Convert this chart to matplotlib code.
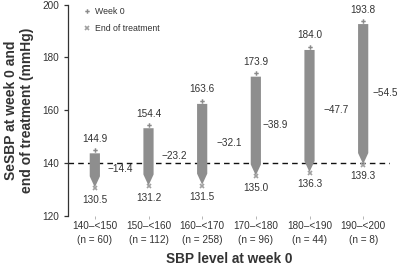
import matplotlib
matplotlib.use("Agg")
import matplotlib.pyplot as plt
import numpy as np

plt.rcParams['font.family'] = ['Liberation Sans', 'DejaVu Sans']

categories = ["140\u2013<150", "150\u2013<160", "160\u2013<170", "170\u2013<180", "180\u2013<190", "190\u2013<200"]
n_values = [60, 112, 258, 96, 44, 8]
week0 = [144.9, 154.4, 163.6, 173.9, 184.0, 193.8]
end_tx = [130.5, 131.2, 131.5, 135.0, 136.3, 139.3]
changes = [-14.4, -23.2, -32.1, -38.9, -47.7, -54.5]
yticks = [120, 140, 160, 180, 200]

bar_color = "#8e8e8e"
txt = "#333333"

fig = plt.figure(figsize=(4.0, 2.65), dpi=100)
ax = fig.add_axes([0.17, 0.185, 0.805, 0.798])

x = np.arange(1, len(categories) + 1)
hw = 0.095       # half width in data units
gap_top = 1.2    # gap between marker and bar top
head = 4.2       # arrow head length

for xi, w0, e in zip(x, week0, end_tx):
    top = w0 - gap_top
    tip = e + 0.3
    neck = tip + head
    xs = [xi - hw, xi + hw, xi + hw, xi, xi - hw]
    ys = [top, top, neck, tip, neck]
    ax.fill(xs, ys, color=bar_color, lw=0, zorder=2)

ax.axhline(140, color="#111111", lw=1.0, ls=(0, (4, 3)), zorder=1)

ax.plot(x, week0, ls="none", marker="P", ms=3.2, color="#8a8a8a", mew=0, zorder=3, label="Week 0")
ax.plot(x, end_tx, ls="none", marker="x", ms=3.2, color="#a0a0a0", mew=1.2, zorder=3, label="End of treatment")

fs = 7.2
for xi, w0, e in zip(x, week0, end_tx):
    ax.text(xi, w0 + 2.4, f"{w0:.1f}", ha="center", va="bottom", fontsize=fs, color=txt)
    ax.text(xi, e - 2.4, f"{e:.1f}", ha="center", va="top", fontsize=fs, color=txt)

label_dx = [0.48, 0.48, 0.5, 0.36, 0.5, 0.42]
for xi, w0, e, c, dx in zip(x, week0, end_tx, changes, label_dx):
    ax.text(xi + dx, (w0 + e) / 2, f"\u2212{abs(c):.1f}", ha="center", va="center", fontsize=fs, color=txt)

ax.set_xlim(0.5, 6.5)
ax.set_ylim(120, 200)
ax.set_yticks(yticks)
ax.set_xticks(x)
ax.set_xticklabels([f"{c}\n(n = {n})" for c, n in zip(categories, n_values)], fontsize=fs, color=txt, linespacing=1.5)
ax.tick_params(axis="y", labelsize=fs, colors=txt, length=3, width=0.9, direction="out")
ax.tick_params(axis="x", length=2.5, width=0.6, color="#aaaaaa", pad=1)

for s in ["top", "right", "bottom"]:
    ax.spines[s].set_visible(False)
ax.spines["left"].set_color("#333333")
ax.spines["left"].set_linewidth(0.9)

ax.set_ylabel("SeSBP at week 0 and\nend of treatment (mmHg)", fontsize=10, fontweight="bold", color=txt, labelpad=6, linespacing=1.15)
ax.set_xlabel("SBP level at week 0", fontsize=9.8, fontweight="bold", color=txt, labelpad=5)

leg = ax.legend(loc="upper left", frameon=False, fontsize=6.3, handlelength=1.0, handletextpad=0.5,
                labelspacing=0.9, bbox_to_anchor=(0.025, 1.015), borderaxespad=0.3, labelcolor=txt)

fig.savefig("out.png", dpi=100)
